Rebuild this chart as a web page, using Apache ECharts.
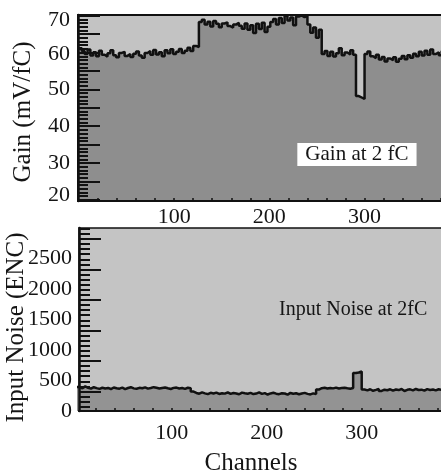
<!DOCTYPE html>
<html>
<head>
<meta charset="utf-8">
<script src="https://cdn.jsdelivr.net/npm/echarts@6/dist/echarts.min.js"></script>
<style>
html,body{margin:0;padding:0;background:#ffffff;}
#chart{width:441px;height:474px;}
</style>
</head>
<body>
<div id="chart"></div>
<script>
// ---- data (one value per 3 channels) ----
const channelStep = 3;
const gainValues = [
  61.2, 60.4, 59.6, 60.8, 59.2, 60.1, 59.0, 60.5, 59.4, 58.9,
  59.8, 60.6, 59.3, 58.7, 59.9, 60.2, 59.1, 59.6, 58.8, 59.7,
  60.3, 59.2, 58.6, 59.9, 60.4, 59.4, 60.7, 59.5, 60.1, 59.0,
  60.6, 59.8, 60.9, 59.6, 60.2, 61.0, 59.9, 60.5, 61.3, 60.4,
  61.8, 61.5, 68.3, 68.9, 67.6, 68.4, 67.1, 68.6, 67.8, 66.9,
  67.9, 68.2, 67.2, 66.8, 67.6, 68.1, 67.3, 66.5, 67.9, 66.2,
  67.4, 65.3, 67.8, 66.4, 68.1, 65.6, 67.0, 68.3, 69.1, 67.6,
  69.4, 68.0, 70.0, 68.7, 69.5, 67.4, 69.8, 70.1, 69.6, 70.1,
  67.6, 65.4, 66.8, 64.0, 66.2, 59.6, 60.4, 59.1, 60.2, 58.9,
  59.8, 61.2, 59.3, 60.0, 59.5, 60.6, 59.4, 48.2, 47.8, 47.4,
  59.6, 60.3, 59.0, 58.5, 59.4, 58.1, 58.8, 57.6, 58.4, 57.9,
  58.7, 57.5, 58.3, 59.1, 58.2, 59.3, 58.6, 59.7, 59.0, 60.2,
  59.2, 60.5, 59.4, 60.8, 59.6, 60.1, 59.3, 60.4
];
const noiseValues = [
  395, 372, 404, 381, 366, 390, 375, 362, 381, 369,
  378, 360, 385, 372, 366, 383, 358, 377, 390, 371,
  364, 380, 373, 388, 367, 376, 391, 382, 369, 378,
  386, 372, 361, 379, 384, 370, 376, 363, 381, 372,
  318, 296, 283, 305, 289, 276, 298, 287, 302, 279,
  292, 285, 306, 281, 295, 288, 274, 301, 290, 283,
  297, 278, 286, 304, 281, 293, 270, 288, 299, 284,
  276, 291, 287, 268, 296, 282, 290, 275, 288, 297,
  281, 272, 289, 278, 352, 374, 381, 368, 377, 371,
  383, 369, 376, 380, 372, 366, 378, 622, 631, 648,
  352, 338, 357, 331, 346, 362, 329, 349, 341, 356,
  334, 352, 343, 360, 328, 347, 355, 339, 361, 344,
  350, 333, 358, 345, 352, 338, 356, 348
];
const channelLabels = [100, 200, 300];
const gainLabels = [20, 30, 40, 50, 60, 70];
const noiseLabels = [0, 500, 1000, 1500, 2000, 2500];
const gainNote = {text: 'Gain at 2 fC', channel: 292, value: 32.3};
const noiseNote = {text: 'Input Noise at 2fC', channel: 291, value: 1655};

// ---- tick positions ----
const xTicks = [];
for (let c = 20; c <= 380; c += 20) xTicks.push(c);
const gainMajor = [], gainMinor = [];
for (let v = 20; v <= 70; v += 1) { if (v % 5 === 0) gainMajor.push(v); else gainMinor.push(v); }
const noiseMajor = [], noiseMinor = [];
for (let k = 0; k < 36; k++) {
  const v = 70 + k * 500 / 6;
  if (v > 3000) break;
  if (k % 6 === 3) noiseMajor.push(v); else noiseMinor.push(v);
}

function toPairs(vals) {
  const d = vals.map((v, i) => [i * channelStep, v]);
  d.push([vals.length * channelStep, vals[vals.length - 1]]);
  return d;
}

const FONT = 'Liberation Serif';
const TXT = '#151515';
const INK = '#111111';
const plain = function (v) { return String(v); };

const chart = echarts.init(document.getElementById('chart'), null, {renderer: 'canvas'});

function xAxisCfg(grid, min, max, margin) {
  return {
    type: 'value', gridIndex: grid, min: min, max: max, z: 5, position: 'bottom',
    axisLine: {show: true, onZero: false, lineStyle: {color: INK, width: 2}},
    axisTick: {show: true, inside: true, length: 3, customValues: xTicks, lineStyle: {color: INK, width: 1.5}},
    axisLabel: {customValues: channelLabels, fontFamily: FONT, fontSize: 22, color: TXT, margin: margin, formatter: plain},
    splitLine: {show: false}
  };
}

const option = {
  animation: false,
  backgroundColor: '#ffffff',
  grid: [
    {left: 78, top: 15, right: -6, height: 186, show: true, backgroundColor: '#c3c3c3', borderColor: INK, borderWidth: 2, outerBoundsMode: 'none', containLabel: false},
    {left: 79, top: 228, right: -6, height: 183, show: true, backgroundColor: '#c4c4c4', borderColor: INK, borderWidth: 1.5, outerBoundsMode: 'none', containLabel: false}
  ],
  xAxis: [
    xAxisCfg(0, -1, 386.6, 5),
    Object.assign(xAxisCfg(1, 2.4, 389.8, 11), {
      name: 'Channels', nameLocation: 'middle', nameGap: 40, nameMoveOverlap: false,
      nameTextStyle: {fontFamily: FONT, fontSize: 25, color: TXT, padding: [0, 24, 0, 0]}
    })
  ],
  yAxis: [
    {
      type: 'value', gridIndex: 0, min: 19.7, max: 70.2, z: 5, position: 'left',
      name: 'Gain (mV/fC)', nameLocation: 'middle', nameGap: 42, nameMoveOverlap: false,
      nameTextStyle: {fontFamily: FONT, fontSize: 25, color: TXT, padding: [0, 8, 0, 0]},
      axisLine: {show: true, onZero: false, lineStyle: {color: INK, width: 2.5}},
      axisTick: {show: true, inside: true, length: 22, customValues: gainMajor, lineStyle: {color: INK, width: 2}},
      axisLabel: {
        customValues: gainLabels, fontFamily: FONT, fontSize: 22, color: TXT, margin: 8,
        formatter: function (v) { return v === 70 ? '{a|70}' : (v === 20 ? '{b|20}' : (v === 60 ? '{s|60}' : '{c|' + v + '}')); },
        rich: {
          a: {fontFamily: FONT, fontSize: 22, color: TXT, padding: [9, 0, 0, 0]},
          b: {fontFamily: FONT, fontSize: 22, color: TXT, padding: [0, 0, 10, 0]},
          s: {fontFamily: FONT, fontSize: 22, color: TXT, padding: [3, 0, 0, 0]},
          c: {fontFamily: FONT, fontSize: 22, color: TXT}
        }
      },
      splitLine: {show: false}
    },
    {
      type: 'value', gridIndex: 0, min: 19.7, max: 70.2, z: 5, position: 'left', offset: 0,
      axisLine: {show: false, onZero: false},
      axisTick: {show: true, inside: true, length: 10, customValues: gainMinor, lineStyle: {color: INK, width: 2}},
      axisLabel: {show: false}, splitLine: {show: false}
    },
    {
      type: 'value', gridIndex: 1, min: 0, max: 3000, z: 5, position: 'left',
      name: 'Input Noise (ENC)', nameLocation: 'middle', nameGap: 50, nameMoveOverlap: false,
      nameTextStyle: {fontFamily: FONT, fontSize: 25, color: TXT, padding: [0, 16, 0, 0]},
      axisLine: {show: true, onZero: false, lineStyle: {color: INK, width: 2.5}},
      axisTick: {show: true, inside: true, length: 22, customValues: noiseMajor, lineStyle: {color: INK, width: 2}},
      axisLabel: {customValues: noiseLabels, fontFamily: FONT, fontSize: 22, color: TXT, margin: 7, padding: [14, 0, 0, 0], formatter: plain},
      splitLine: {show: false}
    },
    {
      type: 'value', gridIndex: 1, min: 0, max: 3000, z: 5, position: 'left', offset: 0,
      axisLine: {show: false, onZero: false},
      axisTick: {show: true, inside: true, length: 11, customValues: noiseMinor, lineStyle: {color: INK, width: 2}},
      axisLabel: {show: false}, splitLine: {show: false}
    }
  ],
  series: [
    {
      type: 'line', xAxisIndex: 0, yAxisIndex: 0, step: 'end', symbol: 'none',
      data: toPairs(gainValues),
      lineStyle: {color: INK, width: 2.5},
      areaStyle: {color: '#8e8e8e', opacity: 1, origin: 'start'},
      z: 2
    },
    {
      type: 'line', xAxisIndex: 1, yAxisIndex: 2, step: 'end', symbol: 'none',
      data: toPairs(noiseValues),
      lineStyle: {color: INK, width: 2.5},
      areaStyle: {color: '#939393', opacity: 1, origin: 'start'},
      z: 2
    }
  ]
};
chart.setOption(option);

const p1 = chart.convertToPixel({xAxisIndex: 0, yAxisIndex: 0}, [gainNote.channel, gainNote.value]);
const p2 = chart.convertToPixel({xAxisIndex: 1, yAxisIndex: 2}, [noiseNote.channel, noiseNote.value]);
chart.setOption({
  graphic: [
    {
      type: 'text', x: p1[0], y: p1[1], z: 10,
      style: {
        text: gainNote.text, fontFamily: FONT, fontSize: 21, fill: TXT,
        align: 'center', verticalAlign: 'middle',
        backgroundColor: '#ffffff', padding: [1, 8, 1, 8], lineHeight: 21
      }
    },
    {
      type: 'text', x: p2[0], y: p2[1], z: 10,
      style: {
        text: noiseNote.text, fontFamily: FONT, fontSize: 20, fill: TXT,
        align: 'center', verticalAlign: 'middle'
      }
    }
  ]
});
</script>
</body>
</html>
